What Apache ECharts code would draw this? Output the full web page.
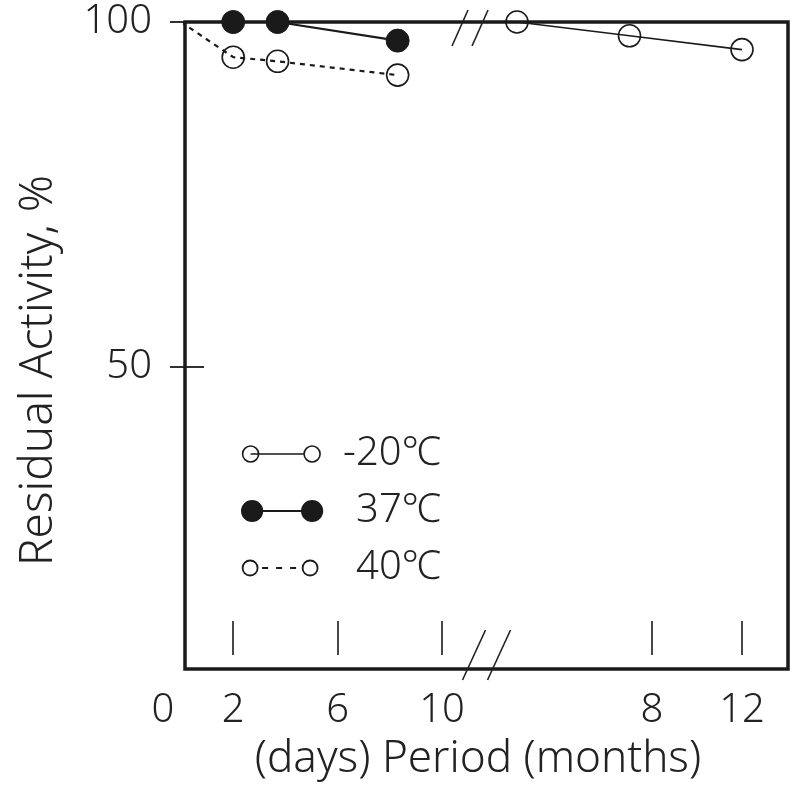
<!DOCTYPE html>
<html>
<head>
    <meta charset="utf-8">
    <title>Residual Activity vs Period</title>
    <script src="https://cdn.jsdelivr.net/npm/echarts@6/dist/echarts.min.js"></script>
</head>
<body style="margin:0;background:#fff;">
    <div id="chart" style="width: 800px;height:800px;"></div>
    <script type="text/javascript">
        // tick and label values
        var dayTicks = [2, 6, 10];
        var dayLabels = [0, 2, 6, 10];
        var monthTicks = [8, 12];
        var monthLabels = [8, 12];
        var yLabels = [50, 100];

        // -20℃ (months)
        var m20Months = [2, 7, 12];
        var m20Values = [100, 98, 96];
        // 37℃ (days)
        var c37Days = [2, 3.7, 8.3];
        var c37Values = [100, 100, 97.3];
        // 40℃ (days)
        var c40Days = [0, 2, 3.7, 8.3];
        var c40Values = [100, 94.9, 94.3, 92.3];

        // broken axis: months are drawn after the days, in day units
        var MONTH_OFFSET = 11.15;
        var MONTH_SCALE = 0.862;
        var breakAt = 11.38;
        function monthPos(m) { return MONTH_OFFSET + MONTH_SCALE * m; }

        // layout
        var PX0 = 181, PX_PER_DAY = 26.1;
        var leftA = 185, leftB = 168, rightEdge = 788;
        var yMin = 6.2, yMax = 100;
        var ink = '#1a1a1a';
        var font = "'Noto Sans', 'Noto Sans CJK JP', sans-serif";
        var thin = 300;

        var tickPos = dayTicks.concat(monthTicks.map(monthPos));
        var labelPos = dayLabels.concat(monthLabels.map(monthPos));
        var labelText = dayLabels.concat(monthLabels).map(String);

        function findLabel(v) {
            for (var i = 0; i < labelPos.length; i++) {
                if (Math.abs(labelPos[i] - v) < 1e-6) return labelText[i];
            }
            return '';
        }

        // legend icons (80 x 20 box)
        function ring(cx, r) {
            return 'M' + (cx - r) + ' 10 A' + r + ' ' + r + ' 0 1 1 ' + (cx + r) + ' 10 A' + r + ' ' + r + ' 0 1 1 ' + (cx - r) + ' 10 Z ';
        }
        var box = 'M0 0 M80 20 ';
        var iconM20 = 'path://' + box + ring(8.5, 8) + 'M8.5 10 L62 10 ' + ring(70, 8);
        var icon37 = 'path://' + box + ring(10, 10) + 'M20 10 L60 10 ' + ring(70, 10);
        var icon40 = 'path://' + box + ring(8, 7.5) + 'M20 10 L26 10 M34 10 L40 10 M48 10 L54 10 ' + ring(68, 7.5);

        var option = {
            animation: false,
            backgroundColor: '#fff',
            textStyle: { fontFamily: font, fontWeight: thin },
            grid: [
                { left: leftA, right: 800 - rightEdge, top: 22, bottom: 131, show: true,
                  borderColor: ink, borderWidth: 3.5, backgroundColor: 'transparent', outerBoundsMode: 'none' },
                { left: leftB, right: 800 - rightEdge, top: 72, bottom: 131, outerBoundsMode: 'none' }
            ],
            xAxis: [
                {
                    type: 'value', gridIndex: 0,
                    min: (leftA - PX0) / PX_PER_DAY, max: (rightEdge - PX0) / PX_PER_DAY,
                    offset: -14,
                    axisLine: { show: false },
                    axisTick: { show: true, inside: true, length: 34, customValues: tickPos,
                                lineStyle: { color: '#333', width: 1.8 } },
                    axisLabel: { show: false },
                    splitLine: { show: false }
                },
                {
                    type: 'value', gridIndex: 1,
                    min: (leftB - PX0) / PX_PER_DAY, max: (rightEdge - PX0) / PX_PER_DAY,
                    axisLine: { show: false },
                    axisTick: { show: false },
                    splitLine: { show: false },
                    axisLabel: {
                        customValues: labelPos, margin: 22, fontSize: 40, color: '#222',
                        fontFamily: font, fontWeight: thin,
                        formatter: function (v) {
                            var t = findLabel(v);
                            return t === '0' ? '{z|0}' : t;
                        },
                        rich: { z: { padding: [0, 36, 0, 0], fontSize: 40, color: '#222', fontFamily: font, fontWeight: thin } }
                    },
                    name: '(days) Period (months)', nameLocation: 'middle', nameGap: 68, nameMoveOverlap: false,
                    nameTextStyle: { fontSize: 44, color: '#222', fontFamily: font, fontWeight: thin }
                }
            ],
            yAxis: [
                {
                    type: 'value', gridIndex: 0, min: yMin, max: yMax,
                    axisLine: { show: false },
                    axisTick: { show: true, length: 15, customValues: yLabels, lineStyle: { color: ink, width: 1.8 } },
                    axisLabel: { customValues: yLabels, margin: 33, fontSize: 40, color: '#222', fontFamily: font, fontWeight: thin },
                    splitLine: { show: false }
                },
                {
                    type: 'value', gridIndex: 0, min: yMin, max: yMax, position: 'left',
                    axisLine: { show: false },
                    axisTick: { show: true, inside: true, length: 19, customValues: yLabels, lineStyle: { color: ink, width: 1.8 } },
                    axisLabel: { show: false },
                    splitLine: { show: false }
                },
                {
                    type: 'value', gridIndex: 1, min: 0, max: 1,
                    axisLine: { show: false }, axisTick: { show: false },
                    axisLabel: { show: false }, splitLine: { show: false },
                    name: 'Residual Activity, %', nameLocation: 'middle', nameGap: 106, nameMoveOverlap: false,
                    nameTextStyle: { fontSize: 46, color: '#222', fontFamily: font, fontWeight: thin }
                }
            ],
            legend: {
                orient: 'vertical', left: 236, top: 429,
                itemWidth: 104, itemHeight: 20, itemGap: 17,
                selectedMode: false,
                textStyle: { fontSize: 40, color: '#222', fontFamily: font, fontWeight: thin },
                data: [
                    { name: '-20℃', icon: iconM20,
                      itemStyle: { color: 'rgba(0,0,0,0)', borderColor: ink, borderWidth: 1.6 },
                      textStyle: { padding: [0, 0, 0, 4] } },
                    { name: '37℃', icon: icon37,
                      itemStyle: { color: ink, borderColor: ink, borderWidth: 2.2 },
                      textStyle: { padding: [0, 0, 0, 17] } },
                    { name: '40℃', icon: icon40,
                      itemStyle: { color: 'rgba(0,0,0,0)', borderColor: ink, borderWidth: 1.8 },
                      textStyle: { padding: [0, 0, 0, 17] } }
                ]
            },
            series: [
                {
                    name: '-20℃', type: 'line', xAxisIndex: 0, yAxisIndex: 0, clip: false, silent: true,
                    data: m20Months.map(function (m, i) { return [monthPos(m), m20Values[i]]; }),
                    symbol: 'circle', symbolSize: 22,
                    itemStyle: { color: 'rgba(0,0,0,0)', borderColor: ink, borderWidth: 1.6 },
                    lineStyle: { color: ink, width: 1.6 }
                },
                {
                    name: '37℃', type: 'line', xAxisIndex: 0, yAxisIndex: 0, clip: false, silent: true,
                    data: c37Days.map(function (d, i) { return [d, c37Values[i]]; }),
                    symbol: 'circle', symbolSize: 23,
                    itemStyle: { color: ink, borderColor: ink, borderWidth: 1 },
                    lineStyle: { color: ink, width: 2.2 }
                },
                {
                    name: '40℃', type: 'line', xAxisIndex: 0, yAxisIndex: 0, clip: false, silent: true,
                    data: c40Days.map(function (d, i) {
                        return i === 0 ? { value: [d, c40Values[i]], symbol: 'none' } : [d, c40Values[i]];
                    }),
                    symbol: 'circle', symbolSize: 22,
                    itemStyle: { color: 'rgba(0,0,0,0)', borderColor: ink, borderWidth: 1.6 },
                    lineStyle: { color: ink, width: 2.2, type: [5, 5] }
                },
                {
                    // axis break marks "//" on the top and bottom border
                    type: 'custom', xAxisIndex: 0, yAxisIndex: 0, clip: false, silent: true,
                    data: [[breakAt, yMax], [breakAt, yMin]],
                    renderItem: function (params, api) {
                        var p = api.coord([api.value(0), api.value(1)]);
                        var top = params.dataIndex === 0;
                        var dx = top ? -8 : 8.5, dy = top ? 6 : -14;
                        var w = top ? 8 : 11.5, h = top ? 18 : 25, gap = top ? 10 : 12.5;
                        return {
                            type: 'group',
                            children: [-gap, gap].map(function (o) {
                                return {
                                    type: 'line',
                                    shape: { x1: p[0] + dx + o - w, y1: p[1] + dy + h, x2: p[0] + dx + o + w, y2: p[1] + dy - h },
                                    style: { stroke: '#222', lineWidth: 1.6 }
                                };
                            })
                        };
                    }
                }
            ]
        };

        var chart = echarts.init(document.getElementById('chart'));
        chart.setOption(option);
    </script>
</body>
</html>
